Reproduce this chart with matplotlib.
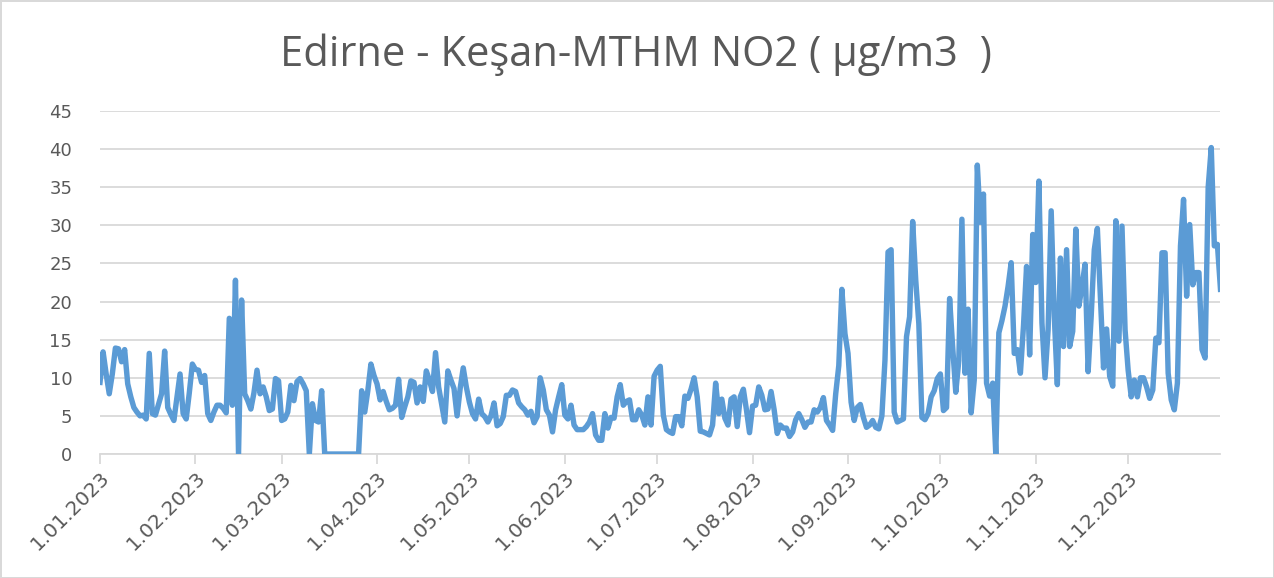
import matplotlib.pyplot as plt
import pandas as pd

# günlük NO2 ortalamaları (µg/m3), aylara göre
jan = [9.4, 13.4, 10.5, 7.9, 10.5, 13.9, 13.8, 12.1, 13.7, 9.2, 7.5, 6.1, 5.5, 5.0, 5.1, 4.6,
       13.2, 5.3, 5.1, 6.5, 7.9, 13.5, 6.1, 5.2, 4.4, 7.5, 10.5, 5.3, 4.6, 8.0, 11.8]
feb = [11.1, 11.0, 9.4, 10.3, 5.3, 4.4, 5.5, 6.4, 6.4, 6.0, 5.4, 17.8, 6.4, 22.8, 0, 20.2,
       7.9, 7.0, 5.9, 8.0, 11.0, 7.9, 8.8, 7.5, 5.7, 5.9, 9.9, 9.6]
mar = [4.4, 4.6, 5.5, 9.0, 7.0, 9.5, 9.9, 9.2, 8.3, 0, 6.6, 4.4, 4.2, 8.3,
       0, 0, 0, 0, 0, 0, 0, 0, 0, 0, 0, 0, 8.3, 5.5, 8.3, 11.8, 10.3]
apr = [9.2, 7.1, 8.2, 6.9, 5.8, 6.0, 6.4, 9.8, 4.8, 6.2, 7.5, 9.6, 9.4, 6.7, 8.8, 6.9,
       10.9, 9.7, 8.2, 13.3, 8.8, 6.5, 4.2, 10.9, 9.7, 8.6, 5.0, 8.6, 11.3, 8.8]
may = [6.8, 5.3, 4.6, 7.2, 5.3, 4.9, 4.2, 5.0, 6.7, 3.7, 4.0, 4.9, 7.7, 7.7, 8.4, 8.2,
       6.7, 6.2, 5.8, 5.1, 5.6, 4.1, 4.9, 10.0, 8.4, 5.8, 5.1, 2.9, 5.8, 7.5, 9.1]
jun = [5.1, 4.6, 6.4, 3.8, 3.2, 3.2, 3.2, 3.6, 4.2, 5.3, 2.5, 1.8, 1.8, 5.3, 3.4, 4.8,
       4.7, 7.5, 9.1, 6.4, 6.9, 7.1, 4.5, 4.5, 5.8, 5.1, 3.8, 7.5, 3.8, 10.2]
jul = [11.0, 11.5, 5.1, 3.2, 2.9, 2.7, 4.9, 4.9, 3.7, 7.6, 7.3, 8.5, 10.0, 7.5, 3.0, 2.9,
       2.7, 2.5, 3.8, 9.3, 5.3, 7.2, 4.7, 3.8, 7.2, 7.5, 3.6, 7.5, 8.5, 5.8, 2.8]
aug = [6.3, 6.4, 8.8, 7.7, 5.8, 5.9, 8.2, 5.8, 2.7, 3.8, 3.4, 3.4, 2.3, 2.9, 4.5, 5.3,
       4.5, 3.5, 4.2, 4.2, 5.8, 5.5, 6.1, 7.4, 4.4, 3.8, 3.1, 7.9, 11.6, 21.6, 15.8]
sep = [13.2, 6.8, 4.4, 6.1, 6.5, 4.8, 3.5, 3.8, 4.4, 3.5, 3.3, 5.0, 12.3, 26.5, 26.8, 5.5,
       4.2, 4.4, 4.6, 15.4, 18.0, 30.5, 22.8, 17.1, 4.8, 4.5, 5.3, 7.5, 8.3, 9.9]
oct_ = [10.5, 5.7, 6.1, 20.4, 14.0, 8.1, 12.3, 30.8, 10.6, 19.0, 5.4, 9.7, 37.9, 30.4, 34.1,
        9.3, 7.6, 9.3, 0, 15.9, 17.5, 19.4, 22.0, 25.1, 13.2, 13.7, 10.6, 16.8, 24.6, 13.0, 28.8]
nov = [22.5, 35.8, 17.2, 10.0, 16.3, 31.9, 18.1, 9.1, 25.7, 14.1, 26.8, 14.1, 16.1, 29.5,
       19.4, 22.0, 24.9, 10.8, 18.1, 26.8, 29.6, 20.3, 11.3, 16.4, 10.2, 8.9, 30.6, 14.8, 29.9, 16.3]
dec = [11.0, 7.5, 9.7, 7.5, 10.0, 10.0, 8.8, 7.3, 8.4, 15.2, 14.6, 26.4, 26.4, 10.6, 7.1,
       5.8, 9.3, 27.3, 33.4, 20.7, 30.1, 22.2, 23.8, 23.8, 13.7, 12.6, 35.0, 40.2, 27.3, 27.5, 21.6]

values = jan + feb + mar + apr + may + jun + jul + aug + sep + oct_ + nov + dec
dates = pd.date_range("2023-01-01", "2023-12-31", freq="D")

tick_dates = pd.date_range("2023-01-01", "2023-12-01", freq="MS")
tick_labels = ["1.01.2023", "1.02.2023", "1.03.2023", "1.04.2023", "1.05.2023", "1.06.2023",
               "1.07.2023", "1.08.2023", "1.09.2023", "1.10.2023", "1.11.2023", "1.12.2023"]
y_ticks = [0, 5, 10, 15, 20, 25, 30, 35, 40, 45]

txt = "#595959"
grid = "#D9D9D9"

fig = plt.figure(figsize=(12.74, 5.78), dpi=100)
fig.patch.set_edgecolor(grid)
fig.patch.set_linewidth(2)
ax = fig.add_axes([0.0785, 0.2145, 0.8795, 0.5935])

ax.plot(dates, values, color="#5B9BD5", linewidth=3.9, solid_joinstyle="round", zorder=3)

ax.set_xlim(pd.Timestamp("2023-01-01"), pd.Timestamp("2023-12-31"))
ax.set_ylim(0, 45)
ax.set_yticks(y_ticks)
ax.set_xticks(tick_dates)
ax.set_xticklabels(tick_labels, rotation=45, ha="right", rotation_mode="anchor")

ax.grid(axis="y", color=grid, linewidth=1.3, zorder=0)
for s in ["left", "right", "top"]:
    ax.spines[s].set_visible(False)
ax.spines["bottom"].set_color(grid)
ax.spines["bottom"].set_linewidth(1.3)
ax.tick_params(axis="y", length=0, pad=20, labelsize=13, labelcolor=txt)
ax.tick_params(axis="x", length=7, width=1.3, color=grid, pad=3, labelsize=14.5, labelcolor=txt)

fig.text(0.499, 0.905, "Edirne - Keşan-MTHM NO2 ( µg/m3  )", ha="center", va="center",
         fontsize=30, color=txt, family="Open Sans")

fig.savefig("out.png", dpi=100, edgecolor=fig.get_edgecolor())
